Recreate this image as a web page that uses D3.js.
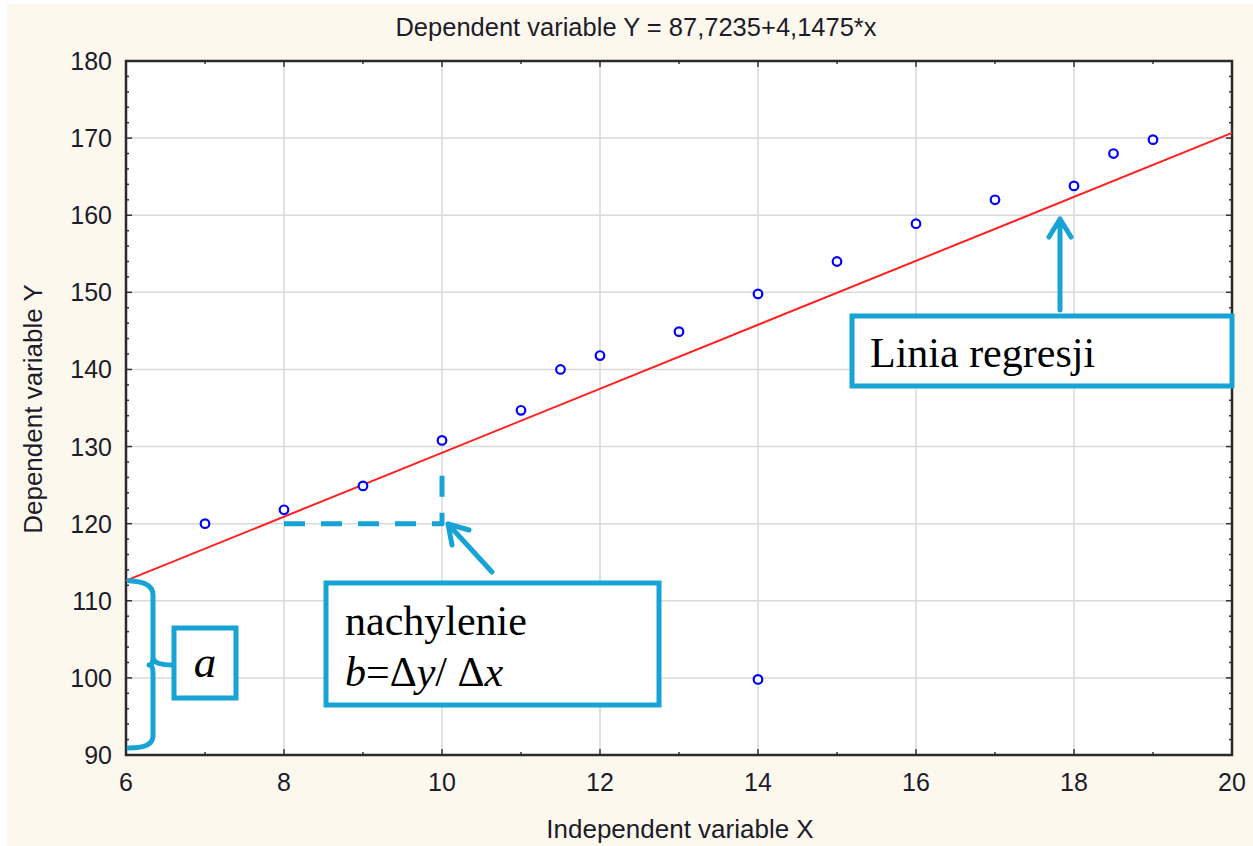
<!DOCTYPE html>
<html>
<head>
<meta charset="utf-8">
<script src="https://cdn.jsdelivr.net/npm/d3@7"></script>
<style>
  body { margin: 0; background: #ffffff; }
  svg { display: block; }
  .tick-label { font-family: "Liberation Sans", Arial, sans-serif; font-size: 25px; fill: #1c1c2a; }
  .note { font-family: "Liberation Serif", "Times New Roman", serif; fill: #000; }
</style>
</head>
<body>
<div id="root"></div>
<script>
// ---------------------------- DATA ----------------------------
const xValues = [7, 8, 9, 10, 11, 11.5, 12, 13, 14, 14, 15, 16, 17, 18, 18.5, 19];
const yValues = [120, 121.8, 124.9, 130.8, 134.7, 140, 141.8, 144.9, 149.8, 99.8, 154, 158.9, 162, 163.8, 168, 169.8];

// regression coefficients from the title
const intercept = 87.7235;
const slope = 4.1475;

const xTicks = [6, 8, 10, 12, 14, 16, 18, 20];
const yTicks = [90, 100, 110, 120, 130, 140, 150, 160, 170, 180];

const titleText = "Dependent variable Y = 87,7235+4,1475*x";
const xLabel = "Independent variable X";
const yLabel = "Dependent variable Y";

// ---------------------------- SETUP ----------------------------
const width = 1253;
const height = 846;
const margin = { top: 61, right: 21, bottom: 91, left: 126 };
const blue = "#17a3d6";

const svg = d3.select("#root")
    .append("svg")
    .attr("width", width)
    .attr("height", height);

// cream background with a thin white edge at top / left
svg.append("rect")
    .attr("x", 7)
    .attr("y", 4)
    .attr("width", width - 7)
    .attr("height", height - 4)
    .style("fill", "#fdf8ee");

const x = d3.scaleLinear()
    .domain([6, 20])
    .range([margin.left, width - margin.right]);
const y = d3.scaleLinear()
    .domain([90, 180])
    .range([height - margin.bottom, margin.top]);

// plot area
svg.append("rect")
    .attr("x", x(6))
    .attr("y", y(180))
    .attr("width", x(20) - x(6))
    .attr("height", y(90) - y(180))
    .style("fill", "#ffffff");

// grid lines
svg.append("g")
    .selectAll("line")
    .data(xTicks.slice(1, -1))
    .enter()
    .append("line")
    .attr("x1", d => x(d))
    .attr("x2", d => x(d))
    .attr("y1", y(180))
    .attr("y2", y(90))
    .style("stroke", "#d9d9d9")
    .style("stroke-width", 1.5);
svg.append("g")
    .selectAll("line")
    .data(yTicks.slice(1, -1))
    .enter()
    .append("line")
    .attr("x1", x(6))
    .attr("x2", x(20))
    .attr("y1", d => y(d))
    .attr("y2", d => y(d))
    .style("stroke", "#d9d9d9")
    .style("stroke-width", 1.5);

// inward ticks on all four sides (major + minor)
const xMinor = d3.range(7, 20, 2);
const yMinor = d3.range(90, 180, 2).filter(v => v % 10 !== 0);
const tickG = svg.append("g").style("stroke", "#333").style("stroke-width", 1.5);
function xTickMarks(vals, len) {
    vals.forEach(v => {
        tickG.append("line").attr("x1", x(v)).attr("x2", x(v)).attr("y1", y(90)).attr("y2", y(90) - len);
        tickG.append("line").attr("x1", x(v)).attr("x2", x(v)).attr("y1", y(180)).attr("y2", y(180) + len);
    });
}
function yTickMarks(vals, len) {
    vals.forEach(v => {
        tickG.append("line").attr("x1", x(6)).attr("x2", x(6) + len).attr("y1", y(v)).attr("y2", y(v));
        tickG.append("line").attr("x1", x(20)).attr("x2", x(20) - len).attr("y1", y(v)).attr("y2", y(v));
    });
}
xTickMarks(xTicks, 6);
xTickMarks(xMinor, 3);
yTickMarks(yTicks, 6);
yTickMarks(yMinor, 3);

// frame
svg.append("rect")
    .attr("x", x(6))
    .attr("y", y(180))
    .attr("width", x(20) - x(6))
    .attr("height", y(90) - y(180))
    .style("fill", "none")
    .style("stroke", "#2a2a2a")
    .style("stroke-width", 2.5);

// tick labels
svg.append("g")
    .selectAll("text")
    .data(xTicks)
    .enter()
    .append("text")
    .attr("class", "tick-label")
    .attr("x", d => x(d))
    .attr("y", y(90) + 36)
    .attr("text-anchor", "middle")
    .text(d => d);
svg.append("g")
    .selectAll("text")
    .data(yTicks)
    .enter()
    .append("text")
    .attr("class", "tick-label")
    .attr("x", x(6) - 14)
    .attr("y", d => y(d) + 9)
    .attr("text-anchor", "end")
    .text(d => d);

// titles
svg.append("text")
    .attr("class", "tick-label")
    .attr("x", 636)
    .attr("y", 36)
    .attr("text-anchor", "middle")
    .style("font-size", "25.5px")
    .text(titleText);
svg.append("text")
    .attr("class", "tick-label")
    .attr("x", 680)
    .attr("y", 838)
    .attr("text-anchor", "middle")
    .style("font-size", "26px")
    .text(xLabel);
svg.append("text")
    .attr("class", "tick-label")
    .attr("transform", "translate(42," + 409 + ") rotate(-90)")
    .attr("text-anchor", "middle")
    .style("font-size", "26px")
    .text(yLabel);

// regression line
svg.append("line")
    .attr("x1", x(6))
    .attr("y1", y(intercept + slope * 6))
    .attr("x2", x(20))
    .attr("y2", y(intercept + slope * 20))
    .style("stroke", "#ff2020")
    .style("stroke-width", 2);

// data points
svg.append("g")
    .selectAll("circle")
    .data(xValues.map((d, i) => [d, yValues[i]]))
    .enter()
    .append("circle")
    .attr("cx", d => x(d[0]))
    .attr("cy", d => y(d[1]))
    .attr("r", 4.3)
    .style("fill", "#ffffff")
    .style("stroke", "#0000ff")
    .style("stroke-width", 2.2);

// ---------------------------- ANNOTATIONS ----------------------------
const ann = svg.append("g")
    .style("stroke", blue)
    .style("fill", "none")
    .style("stroke-linecap", "round")
    .style("stroke-linejoin", "round");

// slope triangle (dashed)
ann.append("path")
    .attr("d", "M" + x(8) + "," + y(120) + "H" + x(10) + "V" + y(128))
    .style("stroke-width", 5)
    .style("stroke-linecap", "butt")
    .style("stroke-dasharray", "21,16");

// arrow to slope triangle
ann.append("path")
    .attr("d", "M492,572L448,524M452,545L448,524L469,530")
    .style("stroke-width", 5);

// arrow to regression line
ann.append("path")
    .attr("d", "M1060,310V219M1049,237L1060,219L1071,237")
    .style("stroke-width", 5);

// brace marking the intercept
const bTop = y(intercept + slope * 6);
const bBot = 748;
const bMid = 665;
ann.append("path")
    .attr("d", "M129," + bTop + " Q153," + (bTop + 1) + " 153," + (bTop + 14) +
        " V" + (bMid - 8) + " Q153," + bMid + " 173," + bMid +
        " M153," + (bMid - 8) + " Q153," + bMid + " 149," + bMid +
        " Q153," + bMid + " 153," + (bMid + 8) +
        " V" + (bBot - 12) + " Q153," + bBot + " 129," + bBot)
    .style("stroke-width", 5);

// boxes
const boxes = [
    { x: 852, y: 316, w: 380, h: 70 },
    { x: 174, y: 628, w: 62, h: 70 },
    { x: 326, y: 583, w: 333, h: 122 }
];
svg.append("g")
    .selectAll("rect")
    .data(boxes)
    .enter()
    .append("rect")
    .attr("x", d => d.x)
    .attr("y", d => d.y)
    .attr("width", d => d.w)
    .attr("height", d => d.h)
    .style("fill", "#ffffff")
    .style("stroke", blue)
    .style("stroke-width", 5);

svg.append("text")
    .attr("class", "note")
    .attr("x", 870)
    .attr("y", 367)
    .style("font-size", "42px")
    .text("Linia regresji");
svg.append("text")
    .attr("class", "note")
    .attr("x", 205)
    .attr("y", 677)
    .attr("text-anchor", "middle")
    .style("font-size", "45px")
    .style("font-style", "italic")
    .text("a");
svg.append("text")
    .attr("class", "note")
    .attr("x", 345)
    .attr("y", 635)
    .style("font-size", "42px")
    .text("nachylenie");
const slopeText = svg.append("text")
    .attr("class", "note")
    .attr("x", 345)
    .attr("y", 686)
    .style("font-size", "42px");
slopeText.append("tspan").style("font-style", "italic").text("b");
slopeText.append("tspan").text("=Δ");
slopeText.append("tspan").style("font-style", "italic").text("y");
slopeText.append("tspan").text("/ Δ");
slopeText.append("tspan").style("font-style", "italic").text("x");
</script>
</body>
</html>
